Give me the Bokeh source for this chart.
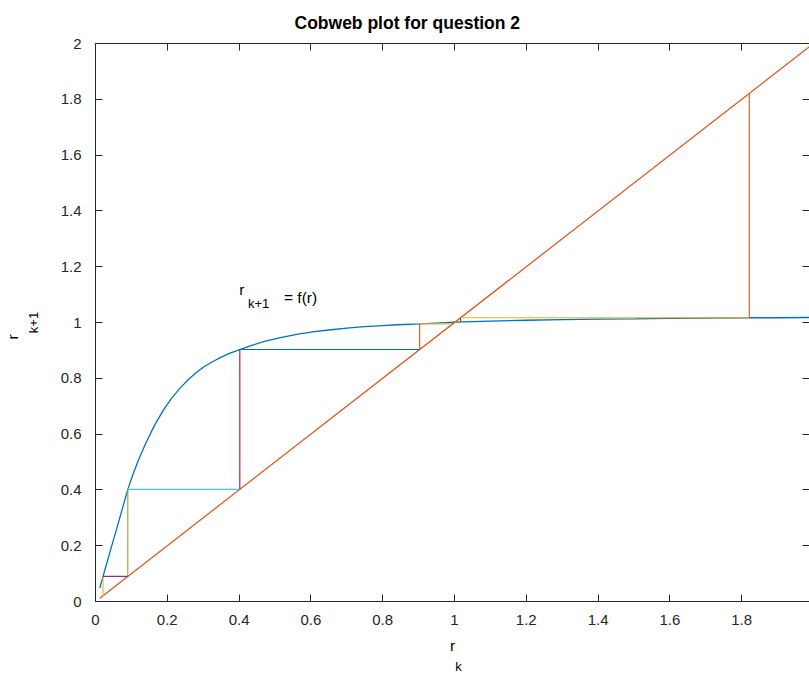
import math
from bokeh.plotting import figure
from bokeh.models import (Range1d, LinearAxis, FixedTicker, NumeralTickFormatter, Label,
                          ColumnDataSource, Title, CustomJSTickFormatter)
from bokeh.embed import file_html
from bokeh.resources import INLINE

title_text = "Cobweb plot for question 2"
x_ticks = [0, 0.2, 0.4, 0.6, 0.8, 1.0, 1.2, 1.4, 1.6, 1.8, 2.0]
y_ticks = [0, 0.2, 0.4, 0.6, 0.8, 1.0, 1.2, 1.4, 1.6, 1.8, 2.0]

# f(r)
curve_r = [0.012, 0.021, 0.030, 0.040, 0.050, 0.060, 0.075, 0.090, 0.105, 0.120,
           0.140, 0.165, 0.190, 0.211, 0.235, 0.258, 0.280, 0.304, 0.330, 0.350,
           0.375, 0.402, 0.435, 0.471, 0.515, 0.564, 0.610, 0.656, 0.700, 0.749,
           0.800, 0.842, 0.903, 0.950, 1.000, 1.100, 1.200, 1.300, 1.400, 1.500,
           1.600, 1.700, 1.821, 1.900, 2.000]
curve_v = [0.049, 0.090, 0.131, 0.176, 0.221, 0.265, 0.334, 0.402, 0.458, 0.508,
           0.567, 0.633, 0.688, 0.727, 0.764, 0.795, 0.820, 0.843, 0.862, 0.876,
           0.890, 0.903, 0.918, 0.932, 0.946, 0.958, 0.967, 0.974, 0.980, 0.985,
           0.989, 0.992, 0.995, 0.998, 1.001, 1.005, 1.008, 1.010, 1.012, 1.013,
           1.015, 1.016, 1.017, 1.017, 1.018]

diag_r = [0.012, 2.0]

# cobweb iterates r_k
web1 = [0.021, 0.090, 0.402, 0.903, 0.995, 1.001]
web2 = [1.821, 1.017, 1.002]

palette = ["#0072BD", "#D95319", "#EDB120", "#7E2F8E", "#77AC30", "#4DBEEE", "#A2142F"]
web_start_color = [2, 1]

axis_col = "#262626"
FONT = "Liberation Sans"

xs_end = 715 / 359.5

p = figure(width=809, height=673, output_backend="svg", toolbar_location=None,
           x_range=Range1d(0, xs_end), y_range=Range1d(0, 2),
           min_border_left=94, min_border_right=0, min_border_top=42, min_border_bottom=71,
           x_axis_location="below", y_axis_location="left")
p.grid.visible = False
p.outline_line_color = None
p.background_fill_color = "white"

blank = CustomJSTickFormatter(code="return ''")

def style_axis(ax, ticks, show_labels=True, standoff=12, line=True):
    ax.ticker = FixedTicker(ticks=ticks)
    ax.major_tick_in = 7
    ax.major_tick_out = 0
    ax.minor_tick_line_color = None
    ax.major_tick_line_color = axis_col
    ax.axis_line_color = axis_col if line else None
    ax.major_label_text_font = FONT
    ax.major_label_text_color = axis_col
    ax.major_label_text_line_height = 1.0
    if show_labels:
        ax.major_label_text_font_size = "15px"
        ax.formatter = NumeralTickFormatter(format="0.[0]")
        ax.major_label_standoff = standoff
    else:
        ax.major_label_text_font_size = "1px"
        ax.formatter = blank
        ax.major_label_standoff = 0

style_axis(p.xaxis[0], x_ticks, standoff=13)
style_axis(p.yaxis[0], y_ticks, standoff=14)

def axis_lab(ax, text, size, standoff):
    ax.axis_label = text
    ax.axis_label_text_font = FONT
    ax.axis_label_text_font_size = size
    ax.axis_label_text_font_style = "normal"
    ax.axis_label_text_color = "black"
    ax.axis_label_text_line_height = 1.0
    ax.axis_label_standoff = standoff

# x axis label: r (subscript k added below as a title)
axis_lab(p.xaxis[0], "r", "15.5px", 9)
# y axis label: subscript k+1 next to the ticks, r further out as a title
axis_lab(p.yaxis[0], "k+1", "13px", 17)

top_ax = LinearAxis()
style_axis(top_ax, x_ticks, show_labels=False)
p.add_layout(top_ax, "above")
right_ax = LinearAxis()
style_axis(right_ax, y_ticks, show_labels=False, line=False)
p.add_layout(right_ax, "right")

def title(text, size, bold, offset, standoff, side):
    p.add_layout(Title(text=text, align="left", offset=offset, text_font=FONT,
                       text_font_size=size, text_font_style="bold" if bold else "normal",
                       text_color="black", standoff=standoff, text_line_height=1.0), side)

title(title_text, "17.5px", True, 199, 21, "above")
title("k", "13px", False, 359.7, 0, "below")
title("r", "15.5px", False, 262, 3, "left")

# curve and diagonal
p.line(curve_r, curve_v, line_color=palette[0], line_width=1.3)
p.line(diag_r, diag_r, line_color=palette[1], line_width=1.2)

# cobweb segments
x0, y0, x1, y1, cols = [], [], [], [], []
for web, c0 in zip([web1, web2], web_start_color):
    ci = c0
    for k in range(len(web) - 1):
        a, b = web[k], web[k + 1]
        x0.append(a); y0.append(a); x1.append(a); y1.append(b)
        cols.append(palette[ci % 7]); ci += 1
        x0.append(a); y0.append(b); x1.append(b); y1.append(b)
        cols.append(palette[ci % 7]); ci += 1
src = ColumnDataSource(dict(x0=x0, y0=y0, x1=x1, y1=y1, c=cols))
p.segment("x0", "y0", "x1", "y1", source=src, line_color="c", line_width=1.1)

def lab(x, y, t, size):
    p.add_layout(Label(x=x, y=y, text=t, text_font=FONT, text_font_size=size,
                       text_color="black", text_align="left", text_baseline="alphabetic"))

# in-plot annotation r_{k+1} = f(r)
lab(0.4006, 1.117, "r", "15.5px")
lab(0.4247, 1.069, "k+1", "13px")
lab(0.525, 1.091, "= f(r)", "15.5px")

open("out.html", "w").write(file_html(p, INLINE))
